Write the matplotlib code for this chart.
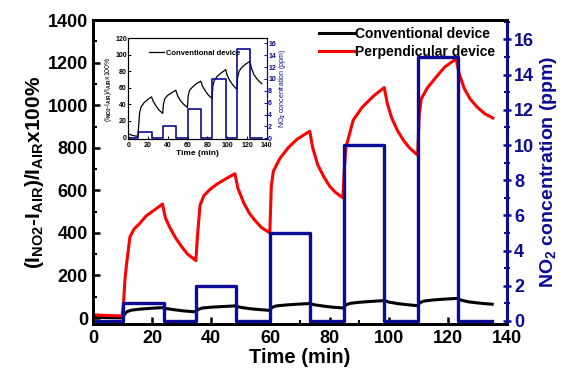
import matplotlib
matplotlib.use("Agg")
import matplotlib.pyplot as plt
from matplotlib.ticker import MultipleLocator

plt.rcParams['font.family'] = ['Liberation Sans', 'DejaVu Sans']
plt.rcParams['font.weight'] = 'bold'
plt.rcParams['mathtext.fontset'] = 'custom'
plt.rcParams['mathtext.rm'] = 'Liberation Sans:bold'
plt.rcParams['mathtext.bf'] = 'Liberation Sans:bold'
plt.rcParams['mathtext.it'] = 'Liberation Sans:bold'

# ---- data ----
gas_on = [10, 35, 60, 85, 110]
gas_off = [24, 48.5, 73.5, 98.5, 123.5]
conc_ppm = [1, 2, 5, 10, 15]

t_perp = [0, 5, 9.8, 10.3, 10.8, 11.4, 12.5, 14, 15.9, 18, 20, 22, 23.5,
          24.5, 26, 28, 30, 32, 34.8,
          35.3, 36.2, 37.5, 39.6, 42, 45, 48,
          49, 51, 53, 55, 57, 59.8,
          60.3, 61, 63.2, 66, 69, 73.3,
          74.3, 76, 78, 80, 82, 84.5,
          85.0, 85.5, 88, 91, 95, 98.5,
          99.5, 101, 103, 105, 107, 109.8,
          110.3, 111, 113, 116.2, 119, 122.8,
          123.8, 125.5, 127.5, 130, 132.5, 135.2]
v_perp = [15, 12, 10, 60, 180, 258, 382, 420, 446, 480, 500, 520, 536,
          470, 425, 375, 335, 300, 270,
          380, 530, 575, 605, 630, 655, 678,
          610, 540, 490, 455, 425, 400,
          620, 690, 750, 800, 840, 878,
          800, 720, 665, 620, 590, 565,
          700, 800, 930, 990, 1045, 1083,
          1010, 940, 880, 835, 800, 765,
          950, 1030, 1080, 1135, 1180, 1218,
          1150, 1080, 1030, 990, 960, 940]

t_conv = [0, 5, 9.8, 10.5, 11.5, 13, 16, 20, 23.5,
          25, 28, 31, 34.8,
          35.5, 37, 40, 44, 48,
          50, 53, 56, 59.8,
          60.5, 62, 65, 69, 73.3,
          75, 78, 81, 84.8,
          85.5, 87, 90, 94, 98.5,
          100, 103, 106, 109.8,
          110.5, 112, 115, 119, 123,
          124.5, 127, 130, 133, 135]
v_conv = [4, 2, 1, 15, 30, 37, 42, 46, 49,
          44, 38, 33, 29,
          40, 47, 51, 54, 57,
          50, 44, 40, 36,
          50, 57, 61, 65, 68,
          62, 56, 51, 47,
          62, 69, 74, 78, 82,
          75, 68, 63, 58,
          72, 80, 85, 89, 92,
          84, 76, 71, 67, 65]

# step profile of the NO2 pulses
t_gas = [0]
c_gas = [0]
for a, b, c in zip(gas_on, gas_off, conc_ppm):
    t_gas += [a, a, b, b]
    c_gas += [0, c, c, 0]
t_gas.append(135)
c_gas.append(0)

BLUE = '#0b0b96'

fig = plt.figure(figsize=(5.68, 3.8), dpi=100)
ax = fig.add_axes([0.1637, 0.1474, 0.7289, 0.7997])
ax2 = ax.twinx()

ax.plot(t_conv, v_conv, color='black', lw=2.2, label='Conventional device', zorder=3)
ax.plot(t_perp, v_perp, color='#ff0000', lw=2.2, label='Perpendicular device', zorder=3)
ax2.plot(t_gas, c_gas, color=BLUE, lw=2.4)

ax.set_xlim(0, 140)
ax.set_ylim(-28, 1400)
ax2.set_ylim(-0.17, 17.1)
ax.xaxis.set_major_locator(MultipleLocator(20))
ax.xaxis.set_minor_locator(MultipleLocator(10))
ax.yaxis.set_major_locator(MultipleLocator(200))
ax.yaxis.set_minor_locator(MultipleLocator(100))
ax2.yaxis.set_major_locator(MultipleLocator(2))
ax2.yaxis.set_minor_locator(MultipleLocator(1))

ax.tick_params(axis='both', which='major', direction='in', length=5, width=1.8, labelsize=13)
ax.tick_params(axis='both', which='minor', direction='in', length=3, width=1.5)
ax.tick_params(axis='x', which='major', pad=4)
ax2.tick_params(axis='y', which='major', direction='inout', length=6, width=1.8,
                labelsize=13, colors=BLUE, pad=2)
ax2.tick_params(axis='y', which='minor', direction='inout', length=4, width=1.5, colors=BLUE)
for lab in ax.get_xticklabels() + ax.get_yticklabels() + ax2.get_yticklabels():
    lab.set_fontweight('bold')

for s in ['left', 'top', 'bottom']:
    ax.spines[s].set_linewidth(2)
    ax2.spines[s].set_linewidth(2)
ax2.spines['right'].set_linewidth(2.2)
ax2.spines['right'].set_color(BLUE)
ax.spines['right'].set_visible(False)

ax.set_xlabel('Time (min)', fontsize=14.5, fontweight='bold', labelpad=1)
ax.set_ylabel(r'$\mathbf{(I_{NO2}\text{-}I_{AIR})/I_{AIR}x100\%}$', fontsize=15, labelpad=1)
ax2.set_ylabel(r'NO$_2$ concentration (ppm)', fontsize=14, fontweight='bold',
               color=BLUE, labelpad=3)

leg = ax.legend(loc='upper right', bbox_to_anchor=(0.985, 0.995), frameon=False,
                prop={'weight': 'bold', 'size': 10}, handlelength=2.5,
                handletextpad=0.1, labelspacing=0.25, borderaxespad=0.0)

# ---- inset ----
ins = fig.add_axes([0.2259, 0.6334, 0.2437, 0.2658])
ins2 = ins.twinx()
ins.plot(t_conv, v_conv, color='black', lw=0.9, label='Conventional device')
ins2.plot(t_gas, c_gas, color=BLUE, lw=1.2)
ins.set_xlim(0, 140)
ins.set_ylim(-2.5, 120)
ins2.set_ylim(-0.17, 16.85)
ins.xaxis.set_major_locator(MultipleLocator(20))
ins.yaxis.set_major_locator(MultipleLocator(20))
ins2.yaxis.set_major_locator(MultipleLocator(2))
ins.tick_params(axis='both', direction='in', length=2, width=0.7, labelsize=5, pad=1)
ins.tick_params(axis='x', pad=2.2)
ins2.tick_params(axis='y', direction='in', length=2, width=0.7, labelsize=5, pad=1, colors=BLUE)
for s in ins.spines.values():
    s.set_linewidth(0.8)
for s in ins2.spines.values():
    s.set_linewidth(0.8)
ins2.spines['right'].set_color(BLUE)
ins.set_xlabel('Time (min)', fontsize=6, fontweight='bold', labelpad=0.3)
ins.set_ylabel(r'(I$_{NO2}$-I$_{AIR}$)/I$_{AIR}$x100%', fontsize=5, labelpad=0.5)
ins2.set_ylabel(r'NO$_2$ concentration (ppm)', fontsize=5, color=BLUE, labelpad=1)
ins.legend(loc='upper left', bbox_to_anchor=(0.12, 0.93), frameon=False,
           prop={'size': 5.5}, handlelength=2, handletextpad=0.2, borderaxespad=0.1)

fig.savefig('out.png', dpi=100)
